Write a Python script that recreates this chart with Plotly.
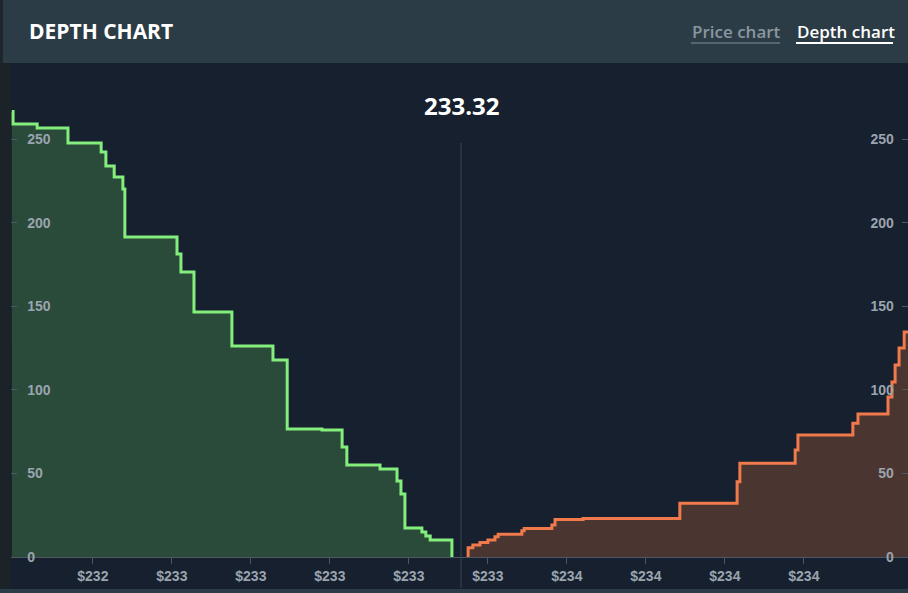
import plotly.graph_objects as go

# ---- data ----
mid_price = 233.32

bid_prices = [232.183, 232.186, 232.247, 232.325, 232.409, 232.421, 232.442, 232.464,
              232.469, 232.601, 232.611, 232.644, 232.740, 232.844, 232.880, 232.968,
              233.019, 233.031, 233.115, 233.158, 233.168, 233.178, 233.221, 233.231,
              233.242, 233.297]
bid_depth = [266.5, 259.0, 256.6, 247.6, 242.2, 233.9, 227.3, 220.1,
             191.4, 181.2, 170.5, 146.5, 126.2, 117.8, 76.6, 75.9,
             65.8, 55.0, 52.6, 45.5, 37.7, 17.3, 15.0, 12.5,
             10.2, 0.0]

ask_prices = [233.338, 233.338, 233.350, 233.368, 233.388, 233.406, 233.414, 233.474,
              233.480, 233.550, 233.558, 233.629, 233.874, 234.019, 234.026, 234.166,
              234.173, 234.312, 234.325, 234.401, 234.411, 234.419, 234.429, 234.442,
              234.460]
ask_depth = [0.0, 5.6, 7.2, 8.6, 10.2, 12.1, 13.6, 15.7,
             17.1, 19.1, 22.4, 23.1, 32.1, 45.0, 56.0, 64.0,
             73.0, 80.0, 85.5, 95.7, 104.7, 114.8, 125.0, 134.6,
             134.6]

x_tick_vals = [232.388, 232.588, 232.788, 232.988, 233.188,
               233.388, 233.588, 233.788, 233.988, 234.188]
x_tick_text = ["$232", "$233", "$233", "$233", "$233",
               "$233", "$234", "$234", "$234", "$234"]
y_tick_vals = [0, 50, 100, 150, 200, 250]

# ---- styling ----
W, H = 908, 593
PL, PR, PT, PB = 11, 0, 63, 36          # plot area pixels
plot_w = W - PL - PR
plot_h = H - PT - PB

def px(X):
    return (X - PL) / plot_w

def py(Y):
    return (H - PB - Y) / plot_h

x_range = [mid_price - (461 - PL) / 395.0, mid_price + (W - 461) / 395.0]
y_range = [0, (H - PB - PT) / 1.672]

bg = "#17202e"
header = "#2c3c46"
tick_col = "#9aa4ae"
axis_col = "#4e5864"

fig = go.Figure()

fig.add_trace(go.Scatter(
    x=bid_prices, y=bid_depth, mode="lines", line_shape="hv",
    line=dict(color="#84ee7c", width=3), fill="tozeroy",
    fillcolor="#2a4a3a", hoverinfo="skip", showlegend=False))

fig.add_trace(go.Scatter(
    x=ask_prices, y=ask_depth, mode="lines", line_shape="hv",
    line=dict(color="#f07a4b", width=3), fill="tozeroy",
    fillcolor="#4b3531", hoverinfo="skip", showlegend=False, yaxis="y2"))

tickfont = dict(family="Liberation Sans, Arial, sans-serif", size=14,
                color=tick_col, weight="bold")

fig.update_layout(
    width=W, height=H, autosize=False,
    margin=dict(l=PL, r=PR, t=PT, b=PB, pad=0),
    paper_bgcolor=bg, plot_bgcolor=bg,
    xaxis=dict(range=x_range, tickvals=x_tick_vals, ticktext=x_tick_text,
               ticks="outside", ticklen=6, tickcolor=axis_col, tickwidth=1,
               showgrid=False, zeroline=False, showline=True,
               linecolor=axis_col, linewidth=1, tickfont=tickfont,
               fixedrange=True),
    yaxis=dict(range=y_range, tickvals=y_tick_vals, ticks="inside", ticklen=6,
               tickcolor=axis_col, showgrid=False, zeroline=False,
               showline=False, ticklabelposition="inside",
               ticklabeloverflow="allow", ticklabelstandoff=10,
               tickfont=tickfont, fixedrange=True),
    yaxis2=dict(range=y_range, tickvals=y_tick_vals, ticks="inside", ticklen=6,
                tickcolor=axis_col, showgrid=False, zeroline=False,
                showline=False, overlaying="y", side="right",
                ticklabelposition="inside", ticklabeloverflow="allow",
                ticklabelstandoff=8, tickfont=tickfont, fixedrange=True),
    showlegend=False,
)

shapes = [
    # header band
    dict(type="rect", xref="paper", yref="paper", x0=px(0), x1=px(W + 2),
         y0=py(63), y1=py(0), fillcolor=header, line_width=0, layer="below"),
    # left dark strip
    dict(type="rect", xref="paper", yref="paper", x0=px(0), x1=px(PL),
         y0=py(H), y1=py(63), fillcolor="#1b2329", line_width=0, layer="below"),
    dict(type="rect", xref="paper", yref="paper", x0=px(0), x1=px(3),
         y0=py(63), y1=py(0), fillcolor="#1d262c", line_width=0, layer="below"),
    # bottom strip
    dict(type="rect", xref="paper", yref="paper", x0=px(0), x1=px(W + 2),
         y0=py(H + 2), y1=py(589), fillcolor=header, line_width=0, layer="below"),
    # mid price line
    dict(type="line", xref="x", yref="paper", x0=mid_price, x1=mid_price,
         y0=py(588), y1=py(143), line=dict(color="#3a4656", width=1)),
    # tab underlines
    dict(type="line", xref="paper", yref="paper", x0=px(691), x1=px(780),
         y0=py(43), y1=py(43), line=dict(color="#56656f", width=2)),
    dict(type="line", xref="paper", yref="paper", x0=px(796), x1=px(893),
         y0=py(43), y1=py(43), line=dict(color="#ffffff", width=2)),
]
fig.update_layout(shapes=shapes)

ann = [
    dict(text="DEPTH CHART", xref="paper", yref="paper", x=px(27), y=py(31),
         xanchor="left", yanchor="middle", showarrow=False,
         font=dict(family="Open Sans", size=21, color="#ffffff", weight="bold")),
    dict(text="Price chart", xref="paper", yref="paper", x=px(690), y=py(31),
         xanchor="left", yanchor="middle", showarrow=False,
         font=dict(family="Open Sans", size=17, color="#8a969f", weight=600)),
    dict(text="Depth chart", xref="paper", yref="paper", x=px(795), y=py(31),
         xanchor="left", yanchor="middle", showarrow=False,
         font=dict(family="Open Sans", size=17, color="#ffffff", weight=600)),
    dict(text=f"{mid_price:.2f}", xref="x", yref="paper", x=mid_price, y=py(105),
         xanchor="center", yanchor="middle", showarrow=False,
         font=dict(family="Open Sans", size=24, color="#ffffff", weight="bold")),
]
fig.update_layout(annotations=ann)

fig.write_html(
    "out.html",
    config={"displayModeBar": False, "staticPlot": True},
    post_script="document.body.style.margin='0';document.body.style.overflow='hidden';"
                "document.body.style.background='%s';" % bg,
)
